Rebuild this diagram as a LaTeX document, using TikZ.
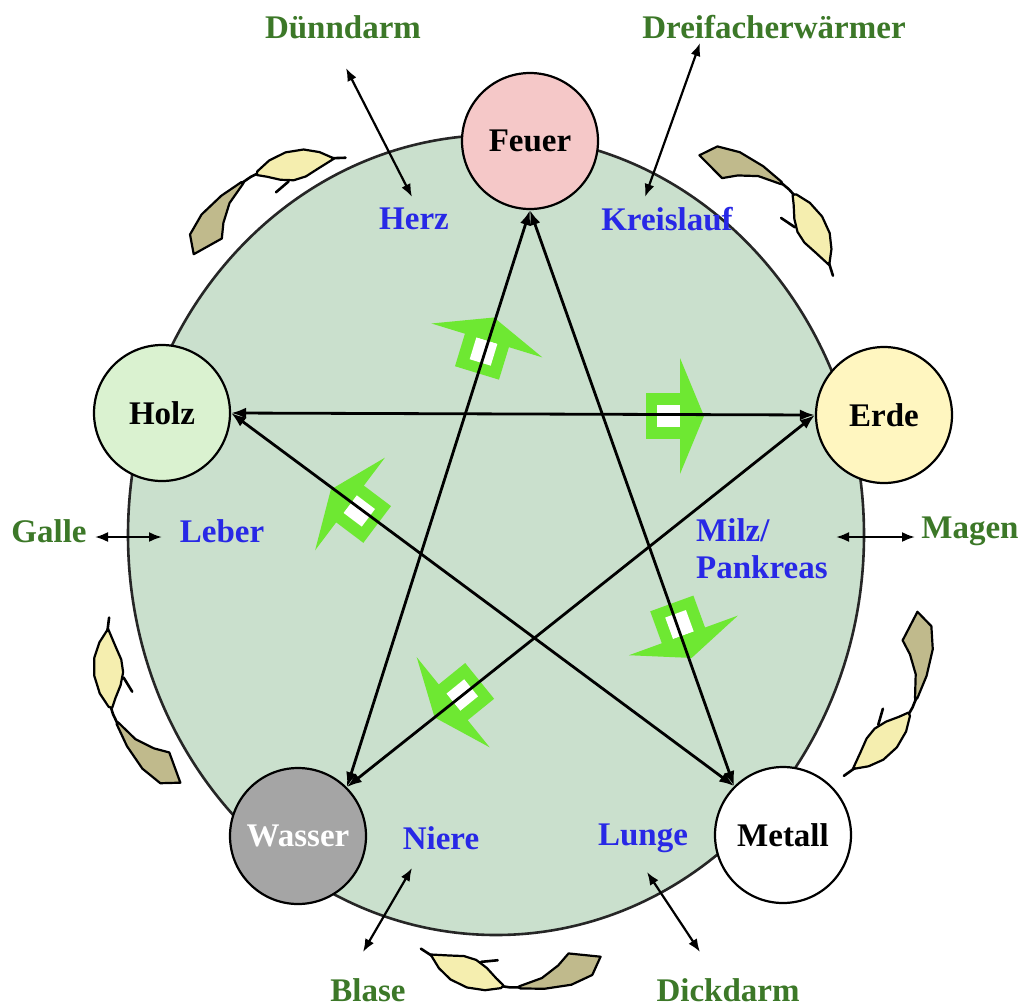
\documentclass[tikz,border=0pt]{standalone}
\usepackage{fontspec}
\setmainfont{Liberation Serif}
\usetikzlibrary{arrows.meta}
\definecolor{bigfill}{RGB}{202,224,205}
\definecolor{feuerfill}{RGB}{245,200,200}
\definecolor{holzfill}{RGB}{218,242,208}
\definecolor{erdefill}{RGB}{255,246,192}
\definecolor{wasserfill}{RGB}{165,165,165}
\definecolor{orgblue}{RGB}{40,40,230}
\definecolor{fugreen}{RGB}{60,120,40}
\definecolor{tailcol}{RGB}{192,186,140}
\definecolor{headcol}{RGB}{245,238,175}
\definecolor{arrgreen}{RGB}{110,232,50}
\newcommand\cycarrow[3]{%
\begin{scope}[shift={(#1,#2)},y={(0pt,1pt)},rotate=#3]
\filldraw[cyctail] (-47:124) -- (-55:133) -- (-65:131) -- (-77:126) -- (-88:122.5) -- (-89:121) -- (-88:120) -- (-77:115) -- (-67:108) -- (-59:102) -- cycle;
\draw[cycline] (-88:121.5) -- (-93:121.5) -- (-97:121);
\filldraw[cychead] (-134:123) -- (-127:112) -- (-120:104) -- (-113:102) -- (-106:106) -- (-100:114) -- (-96:120) -- (-97:123) -- (-104:128) -- (-112:131) -- (-120:131) -- (-127:128) -- cycle;
\draw[cycline] (-110:102) -- (-101:96);
\draw[cycline] (-133:123) -- (-139:126);
\end{scope}}
\newcommand\greenarrow[3]{%
\begin{scope}[shift={(#1,#2)},y={(0pt,1pt)},rotate=#3]
\fill[garrow] (-24,-23) rectangle (12,23);
\fill[white] (-13,-11) rectangle (10,11);
\fill[garrow] (10,-58) -- (34,0) -- (10,58) -- cycle;
\end{scope}}
\begin{document}
\begin{tikzpicture}[x=1pt,y=-1pt,
  bigcirc/.style={draw=black!85, line width=2.6pt, fill=bigfill},
  elem/.style={circle, draw=black, line width=2.2pt, minimum size=136pt, inner sep=0pt, font=\fontsize{33}{37}\selectfont\bfseries},
  organ/.style={text=orgblue, inner sep=0pt, font=\fontsize{33}{37}\selectfont\bfseries},
  fu/.style={text=fugreen, inner sep=0pt, font=\fontsize{33}{37}\selectfont\bfseries},
  pent/.style={line width=2.8pt, {Latex[length=15pt,width=11pt]}-{Latex[length=15pt,width=11pt]}},
  smallarr/.style={line width=2.2pt, {Latex[length=13pt,width=10pt]}-{Latex[length=13pt,width=10pt]}},
  cyctail/.style={fill=tailcol, draw=black, line width=2.2pt, line join=round},
  cychead/.style={fill=headcol, draw=black, line width=2.2pt, line join=round},
  cycline/.style={draw=black, line width=2.6pt, line cap=round, line join=round},
  garrow/.style={fill=arrgreen}]
\useasboundingbox (0,0) rectangle (1025,1007);
\fill[white] (0,0) rectangle (1025,1007);
% big circle
\draw[bigcirc] (496,535) ellipse [x radius=368pt, y radius=400pt];
% cycle arrows
\cycarrow{315}{280}{215}
\cycarrow{707}{279}{140.5}
\cycarrow{802}{657}{68.4}
\cycarrow{516}{866}{0}
\cycarrow{225}{667}{295.9}
% green arrows
\greenarrow{484}{350}{73}
\greenarrow{670}{416}{0}
\greenarrow{680}{626}{-70}
\greenarrow{358}{510}{143}
\greenarrow{461}{696}{-141}
% elements
\node[elem, fill=feuerfill] (feuer) at (530,141) {Feuer};
\node[elem, fill=holzfill] (holz) at (162,413) {Holz};
\node[elem, fill=erdefill] (erde) at (884,415) {Erde};
\node[elem, fill=wasserfill, text=white] (wasser) at (298,836) {Wasser};
\node[elem, fill=white] (metall) at (783,835) {Metall};
% pentagram
\draw[pent] (feuer.south) -- (wasser.45);
\draw[pent] (feuer.south) -- (metall.135);
\draw[pent] (holz.east) -- (erde.west);
\draw[pent] (holz.east) -- (metall.135);
\draw[pent] (wasser.45) -- (erde.west);
% organ labels
\node[organ] (herz) at (414,219) {Herz};
\node[organ] (kreis) at (667,219) {Kreislauf};
\node[organ] (leber) at (222,531) {Leber};
\node[organ, align=left, anchor=west] (milz) at (696,549) {Milz/\\Pankreas};
\node[organ] (niere) at (441,838) {Niere};
\node[organ] (lunge) at (643,838) {Lunge};
\node[fu] (duenn) at (343,27) {Dünndarm};
\node[fu] (dreif) at (774,27) {Dreifacherwärmer};
\node[fu] (galle) at (49,531) {Galle};
\node[fu] (magen) at (970,531) {Magen};
\node[fu] (blase) at (368,990) {Blase};
\node[fu] (dick) at (728,990) {Dickdarm};
% small arrows
\coordinate (dd1) at (346,68); \coordinate (dd2) at (412,197);
\coordinate (dw1) at (700,43); \coordinate (dw2) at (645,197);
\coordinate (ga1) at (95,537); \coordinate (ga2) at (162,537);
\coordinate (ma1) at (836,537); \coordinate (ma2) at (915,537);
\coordinate (bl1) at (412,868); \coordinate (bl2) at (363,952);
\coordinate (di1) at (647,872); \coordinate (di2) at (700,952);
\draw[smallarr] (dd1) -- (dd2);
\draw[smallarr] (dw1) -- (dw2);
\draw[smallarr] (ga1) -- (ga2);
\draw[smallarr] (ma1) -- (ma2);
\draw[smallarr] (bl1) -- (bl2);
\draw[smallarr] (di1) -- (di2);
\end{tikzpicture}
\end{document}
